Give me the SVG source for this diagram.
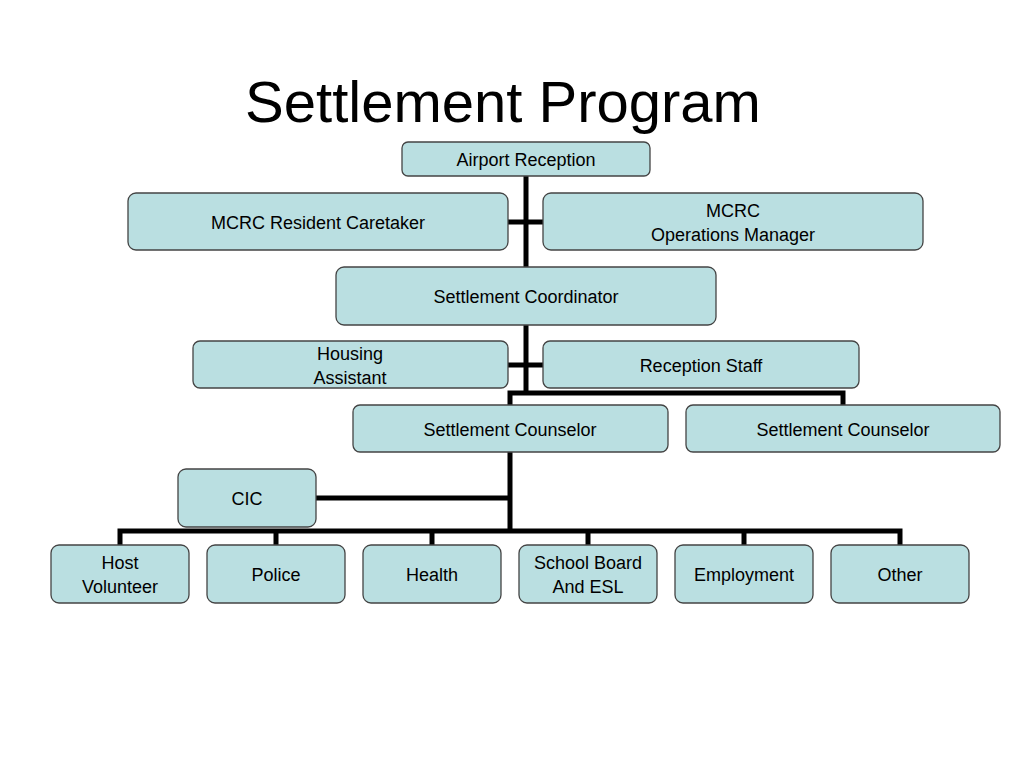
<svg xmlns="http://www.w3.org/2000/svg" width="1024" height="768" viewBox="0 0 1024 768">
<style>
.b{fill:#badfe1;stroke:#444;stroke-width:1.3}
.t{font-family:"Liberation Sans",Arial,sans-serif;font-size:18px;text-anchor:middle;fill:#000}
.c{stroke:#000;stroke-width:5;fill:none}
</style>
<rect width="1024" height="768" fill="#fff"/>
<text x="503" y="122" font-family="Liberation Sans,Arial,sans-serif" font-size="58" text-anchor="middle">Settlement Program</text>
<g id="connectors" class="c">
<path d="M526 176V392M508 222H543M508 365H543M510 405V393H843V405M510 452V531M316 498H510M120 545V531H900V545M276 531V545M432 531V545M588 531V545M744 531V545"/>
</g>
<g id="airport"><rect class="b" x="402" y="142" width="248" height="34" rx="6"/><text class="t" x="526" y="166">Airport Reception</text></g>
<g id="caretaker"><rect class="b" x="128" y="193" width="380" height="57" rx="8"/><text class="t" x="318" y="229">MCRC Resident Caretaker</text></g>
<g id="opsmgr"><rect class="b" x="543" y="193" width="380" height="57" rx="8"/><text class="t" x="733" y="217">MCRC</text><text class="t" x="733" y="241">Operations Manager</text></g>
<g id="coord"><rect class="b" x="336" y="267" width="380" height="58" rx="8"/><text class="t" x="526" y="303">Settlement Coordinator</text></g>
<g id="housing"><rect class="b" x="193" y="341" width="315" height="47" rx="7"/><text class="t" x="350" y="360">Housing</text><text class="t" x="350" y="384">Assistant</text></g>
<g id="reception"><rect class="b" x="543" y="341" width="316" height="47" rx="7"/><text class="t" x="701" y="372">Reception Staff</text></g>
<g id="counselor1"><rect class="b" x="353" y="405" width="315" height="47" rx="7"/><text class="t" x="510" y="436">Settlement Counselor</text></g>
<g id="counselor2"><rect class="b" x="686" y="405" width="314" height="47" rx="7"/><text class="t" x="843" y="436">Settlement Counselor</text></g>
<g id="cic"><rect class="b" x="178" y="469" width="138" height="58" rx="8"/><text class="t" x="247" y="505">CIC</text></g>
<g id="host"><rect class="b" x="51" y="545" width="138" height="58" rx="8"/><text class="t" x="120" y="569">Host</text><text class="t" x="120" y="593">Volunteer</text></g>
<g id="police"><rect class="b" x="207" y="545" width="138" height="58" rx="8"/><text class="t" x="276" y="581">Police</text></g>
<g id="health"><rect class="b" x="363" y="545" width="138" height="58" rx="8"/><text class="t" x="432" y="581">Health</text></g>
<g id="school"><rect class="b" x="519" y="545" width="138" height="58" rx="8"/><text class="t" x="588" y="569">School Board</text><text class="t" x="588" y="593">And ESL</text></g>
<g id="employment"><rect class="b" x="675" y="545" width="138" height="58" rx="8"/><text class="t" x="744" y="581">Employment</text></g>
<g id="other"><rect class="b" x="831" y="545" width="138" height="58" rx="8"/><text class="t" x="900" y="581">Other</text></g>
</svg>
